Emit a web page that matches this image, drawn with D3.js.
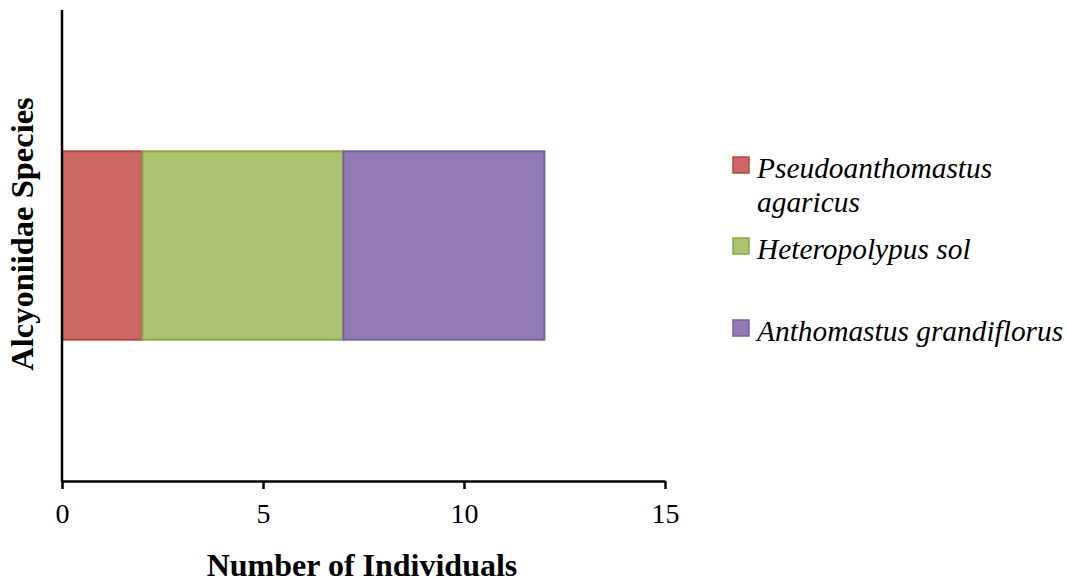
<!DOCTYPE html>
<html>
<head>
<meta charset="utf-8">
<script src="https://cdn.jsdelivr.net/npm/d3@7"></script>
<style>
  html, body { margin: 0; padding: 0; background: #fff; }
  svg { display: block; }
  text { font-family: "Liberation Serif", "Times New Roman", serif; fill: #000; }
</style>
</head>
<body>
<svg id="chart" width="1066" height="583"></svg>
<script>
// Stacked horizontal bar: counts of individuals per Alcyoniidae species
const categories = ["Alcyoniidae"];
const species = ["Pseudoanthomastus agaricus", "Heteropolypus sol", "Anthomastus grandiflorus"];
const legendLines = [["Pseudoanthomastus", "agaricus"], ["Heteropolypus sol"], ["Anthomastus grandiflorus"]];
const counts = [2, 5, 5];
const xTicks = [0, 5, 10, 15];
const fills = ["#cd6761", "#aac36c", "#927bb4"];
const strokes = ["#b24a46", "#8aa650", "#77609c"];

const svg = d3.select("#chart");
const plotLeft = 62, plotRight = 665, plotTop = 10, plotBottom = 481;

const x = d3.scaleLinear().domain([0, 15]).range([plotLeft, plotRight]);
const y = d3.scaleBand().domain(categories).range([plotTop, plotBottom]).paddingInner(0.6).paddingOuter(0.3);

// stack the series into cumulative segments
const row = {};
species.forEach((s, i) => row[s] = counts[i]);
const stacked = d3.stack().keys(species)([row]);

svg.append("g").selectAll("rect")
  .data(stacked)
  .join("rect")
  .attr("x", d => x(d[0][0]))
  .attr("y", y(categories[0]))
  .attr("width", d => x(d[0][1]) - x(d[0][0]))
  .attr("height", y.bandwidth())
  .attr("fill", (d, i) => fills[i])
  .attr("stroke", (d, i) => strokes[i])
  .attr("stroke-width", 2);

// x axis
const xAxis = svg.append("g")
  .attr("transform", `translate(0,${plotBottom})`)
  .attr("font-family", "Liberation Serif")
  .call(d3.axisBottom(x).tickValues(xTicks).tickSize(8).tickPadding(14).tickSizeOuter(0));
xAxis.attr("font-family", "Liberation Serif").attr("font-size", 28);
xAxis.select(".domain").attr("stroke", "#000").attr("stroke-width", 2.5);
xAxis.selectAll(".tick line").attr("stroke", "#000").attr("stroke-width", 2.5);
xAxis.selectAll(".tick text")
  .style("font-family", "'Liberation Serif', serif")
  .style("font-size", "28px")
  .attr("fill", "#000");

// y axis line
svg.append("line")
  .attr("x1", plotLeft).attr("x2", plotLeft)
  .attr("y1", plotTop).attr("y2", plotBottom + 1)
  .attr("stroke", "#000").attr("stroke-width", 2.5);

// axis titles
svg.append("text")
  .attr("x", 362)
  .attr("y", 576)
  .attr("text-anchor", "middle")
  .style("font-size", "32px")
  .style("font-weight", "bold")
  .text("Number of Individuals");

svg.append("text")
  .attr("transform", `translate(33,234) rotate(-90)`)
  .attr("text-anchor", "middle")
  .style("font-size", "32.5px")
  .style("font-weight", "bold")
  .text("Alcyoniidae Species");

// legend
const legendY = [157, 238, 320];
const legend = svg.append("g");
species.forEach((s, i) => {
  legend.append("rect")
    .attr("x", 733).attr("y", legendY[i])
    .attr("width", 16).attr("height", 16)
    .attr("fill", fills[i])
    .attr("stroke", strokes[i])
    .attr("stroke-width", 1.5);
  const t = legend.append("text")
    .attr("x", 757)
    .attr("y", legendY[i] + 21)
    .style("font-size", "29.4px")
    .style("font-style", "italic");
  legendLines[i].forEach((line, j) => {
    t.append("tspan").attr("x", 757).attr("dy", j === 0 ? 0 : 34).text(line);
  });
});
</script>
</body>
</html>
